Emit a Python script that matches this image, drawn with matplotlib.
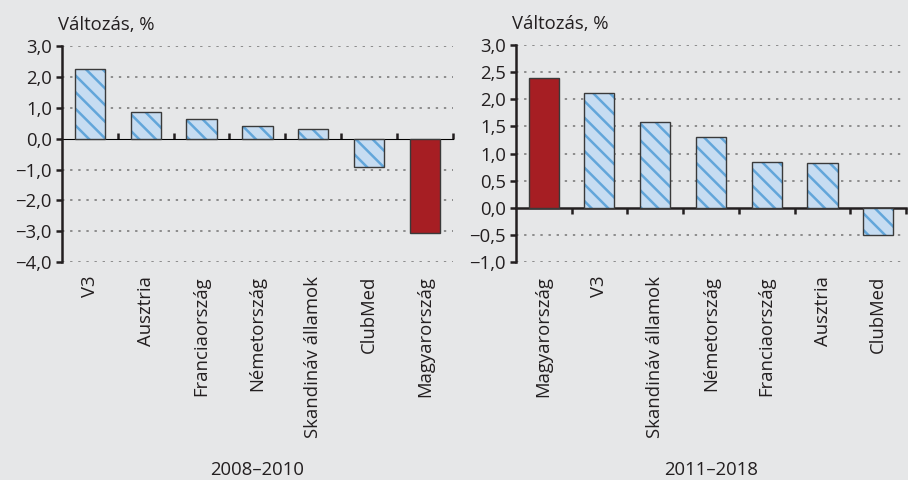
import matplotlib
matplotlib.use("Agg")
import matplotlib.pyplot as plt
from matplotlib.ticker import FuncFormatter, FixedLocator

# 2008-2010
cats_1 = ["V3", "Ausztria", "Franciaország", "Németország", "Skandináv államok", "ClubMed", "Magyarország"]
vals_1 = [2.25, 0.85, 0.63, 0.42, 0.30, -0.93, -3.05]
ylim_1 = (-4.0, 3.0)
yticks_1 = [-4.0, -3.0, -2.0, -1.0, 0.0, 1.0, 2.0, 3.0]

# 2011-2018
cats_2 = ["Magyarország", "V3", "Skandináv államok", "Németország", "Franciaország", "Ausztria", "ClubMed"]
vals_2 = [2.40, 2.12, 1.58, 1.31, 0.85, 0.82, -0.50]
ylim_2 = (-1.0, 3.0)
yticks_2 = [-1.0, -0.5, 0.0, 0.5, 1.0, 1.5, 2.0, 2.5, 3.0]

titles = ["2008–2010", "2011–2018"]
highlight = "Magyarország"

BG = "#E6E7E8"
FILL = "#C6DCF1"
HATCH = "#62A6DA"
RED = "#A61E23"
EDGE = "#3A3A3A"
INK = "#231F20"

plt.rcParams["font.family"] = ["Open Sans", "DejaVu Sans"]
plt.rcParams["font.size"] = 13.3
plt.rcParams["hatch.linewidth"] = 1.8


def fmt(v, pos):
    s = f"{abs(v):.1f}".replace(".", ",")
    return ("−" + s) if v < -1e-9 else s


def draw(ax, cats, vals, ylim, yticks, title):
    ax.set_facecolor(BG)
    x = list(range(len(cats)))
    for i, (c, v) in enumerate(zip(cats, vals)):
        if c == highlight:
            ax.bar(i, v, width=0.54, color=RED, edgecolor=EDGE, linewidth=1.0, zorder=3)
        else:
            # fill + hatch (hatch takes the edge colour), then the dark outline on top
            ax.bar(i, v, width=0.54, color=FILL, edgecolor=HATCH, linewidth=0,
                   hatch="\\\\", zorder=3)
            ax.bar(i, v, width=0.54, fill=False, edgecolor=EDGE, linewidth=1.0, zorder=4)
    ax.set_xlim(-0.5, len(cats) - 0.5)
    ax.set_ylim(*ylim)
    ax.set_yticks(yticks)
    ax.yaxis.set_major_formatter(FuncFormatter(fmt))
    for t in yticks:
        if abs(t) > 1e-9:
            ax.axhline(t, color="#858585", linestyle=(0, (1.3, 3.2)), linewidth=1.3, zorder=1)

    for s in ["top", "right", "bottom"]:
        ax.spines[s].set_visible(False)
    ax.spines["left"].set_linewidth(1.8)
    ax.spines["left"].set_color(INK)
    ax.tick_params(axis="y", length=4, width=1.8, color=INK, pad=3, labelcolor=INK)

    ax.set_xticks(x)
    ax.set_xticklabels(cats, rotation=90, va="top", ha="center", color=INK)
    ax.tick_params(axis="x", length=0, pad=10)

    zero_pos = (0 - ylim[0]) / (ylim[1] - ylim[0])
    sec = ax.secondary_xaxis(zero_pos)
    sec.xaxis.set_major_locator(FixedLocator([i + 0.5 for i in x]))
    sec.tick_params(axis="x", length=4, width=1.8, color=INK, labelbottom=False, direction="out")
    sec.set_xticklabels([])
    sec.spines["bottom"].set_linewidth(1.8)
    sec.spines["bottom"].set_color(INK)
    sec.spines["bottom"].set_zorder(5)

    ax.annotate("Változás, %", xy=(0, 1), xycoords="axes fraction", xytext=(-3, 9),
                textcoords="offset points", ha="left", va="bottom", color=INK)
    pos = ax.get_position()
    ax.figure.text((pos.x0 + pos.x1) / 2, 0.025, title, ha="center", va="center_baseline",
                   color=INK)


fig = plt.figure(figsize=(9.08, 4.8), dpi=100, facecolor=BG)
ax1 = fig.add_axes([0.068, 0.454, 0.431, 0.450])
ax2 = fig.add_axes([0.568, 0.454, 0.430, 0.452])

draw(ax1, cats_1, vals_1, ylim_1, yticks_1, titles[0])
draw(ax2, cats_2, vals_2, ylim_2, yticks_2, titles[1])

fig.savefig("out.png", dpi=100, facecolor=BG)
